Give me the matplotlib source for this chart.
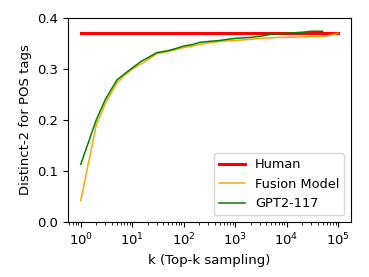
import numpy as np
import matplotlib
matplotlib.use("Agg")
import matplotlib.pyplot as plt

# data
k_vals = [1, 2, 3, 5, 7, 10, 15, 20, 30, 50, 70, 100, 150, 200, 300, 500, 700,
          1000, 2000, 3000, 5000, 7000, 10000, 20000, 30000, 50000]
gpt2 = [0.113, 0.200, 0.240, 0.278, 0.290, 0.302, 0.315, 0.322, 0.332, 0.336,
        0.340, 0.345, 0.348, 0.352, 0.354, 0.356, 0.358, 0.360, 0.362, 0.364,
        0.368, 0.369, 0.370, 0.372, 0.374, 0.374]
k_fusion = k_vals + [70000, 100000]
fusion = [0.042, 0.190, 0.232, 0.272, 0.287, 0.300, 0.310, 0.318, 0.330, 0.334,
          0.338, 0.342, 0.345, 0.348, 0.351, 0.354, 0.355, 0.356, 0.358, 0.360,
          0.361, 0.362, 0.362, 0.363, 0.364, 0.364, 0.366, 0.370]
k_human = [1, 100000]
human = [0.370, 0.370]

fig, ax = plt.subplots(figsize=(3.69, 2.77), dpi=100)
fig.subplots_adjust(left=0.184, right=0.951, top=0.935, bottom=0.199)

ax.plot(k_human, human, color='red', lw=2.2, label='Human')
ax.plot(k_fusion, fusion, color='orange', lw=1.1, label='Fusion Model')
ax.plot(k_vals, gpt2, color='green', lw=1.1, label='GPT2-117')

ax.set_xscale('log')
ax.set_ylim(0.0, 0.4)
ax.set_yticks([0.0, 0.1, 0.2, 0.3, 0.4])
ax.tick_params(labelsize=9.5)
ax.set_xlabel("k (Top-k sampling)", fontsize=9.5)
ax.set_ylabel("Distinct-2 for POS tags", fontsize=9.5)
ax.legend(loc='lower right', fontsize=9.3)

fig.savefig("out.png", dpi=100)
